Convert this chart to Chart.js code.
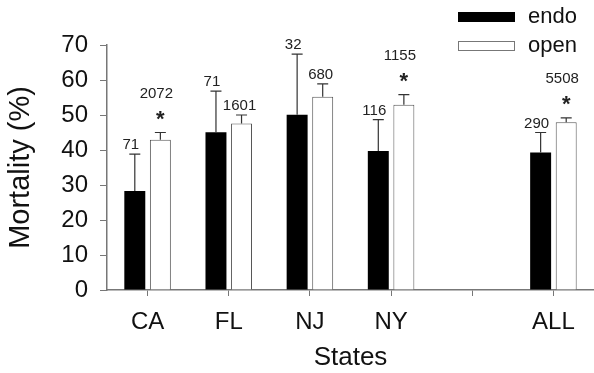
<!DOCTYPE html>
<html>
<head>
<meta charset="utf-8">
<script src="https://cdn.jsdelivr.net/npm/chart.js@4"></script>
<style>
  html, body { margin: 0; padding: 0; background: #fff; }
  #wrap { width: 594px; height: 373px; }
</style>
</head>
<body>
<div id="wrap"><canvas id="chartContainer"></canvas></div>
<script>
const states = ['CA', 'FL', 'NJ', 'NY', '', 'ALL'];
const endoValues = [28.3, 45.1, 50.1, 39.7, null, 39.3];
const endoErrors = [10.5, 11.7, 17.3, 9.0, null, 5.7];
const openValues = [42.9, 47.6, 55.2, 52.9, null, 47.9];
const openErrors = [2.1, 2.4, 3.7, 2.9, null, 1.3];
const endoCounts = ['71', '71', '32', '116', '', '290'];
const openCounts = ['2072', '1601', '680', '1155', '', '5508'];
const openStars = [true, false, false, true, false, true];
const yTicks = [0, 10, 20, 30, 40, 50, 60, 70];

const FONT = 'Liberation Sans, Arial, sans-serif';

// error bars (upward only) and n / * labels
const extrasPlugin = {
    id: 'extras',
    afterDatasetsDraw(chart) {
        const ctx = chart.ctx;
        const y = chart.scales.y;
        const errs = [endoErrors, openErrors];
        ctx.save();
        chart.data.datasets.forEach((ds, di) => {
            const meta = chart.getDatasetMeta(di);
            meta.data.forEach((bar, i) => {
                const v = ds.data[i];
                if (v === null) return;
                const top = y.getPixelForValue(v + errs[di][i]);
                ctx.strokeStyle = '#333';
                ctx.lineWidth = 1.2;
                ctx.beginPath();
                ctx.moveTo(bar.x, bar.y);
                ctx.lineTo(bar.x, top);
                ctx.moveTo(bar.x - 5.5, top);
                ctx.lineTo(bar.x + 5.5, top);
                ctx.stroke();

                ctx.fillStyle = '#222';
                ctx.textAlign = 'center';
                ctx.textBaseline = 'alphabetic';
                if (di === 0) {
                    ctx.font = '15px ' + FONT;
                    ctx.fillText(endoCounts[i], bar.x - 4, top - 5);
                } else if (openStars[i]) {
                    ctx.font = 'bold 22px ' + FONT;
                    ctx.fillText('*', bar.x, top - 7);
                    ctx.font = '15px ' + FONT;
                    ctx.fillText(openCounts[i], bar.x - 4, top - 35);
                } else {
                    ctx.font = '15px ' + FONT;
                    ctx.fillText(openCounts[i], bar.x - 2, top - 5);
                }
            });
        });

        // legend
        const items = [
            { label: 'endo', fill: '#000', stroke: '#000', y: 17 },
            { label: 'open', fill: '#fff', stroke: '#777', y: 46 }
        ];
        items.forEach(it => {
            ctx.fillStyle = it.fill;
            ctx.strokeStyle = it.stroke;
            ctx.lineWidth = 1;
            ctx.fillRect(458, it.y - 5, 57, 10);
            ctx.strokeRect(458.5, it.y - 4.5, 56, 9);
            ctx.fillStyle = '#111';
            ctx.font = '22px ' + FONT;
            ctx.textAlign = 'left';
            ctx.textBaseline = 'middle';
            ctx.fillText(it.label, 528, it.y);
        });
        ctx.restore();
    }
};

function displayChart() {
    const chartContainer = document.getElementById('chartContainer');
    new Chart(chartContainer, {
        type: 'bar',
        data: {
            labels: states,
            datasets: [{
                label: 'endo',
                data: endoValues,
                backgroundColor: '#000',
                borderColor: '#000',
                borderWidth: 0,
                categoryPercentage: 0.63,
                barPercentage: 0.82
            }, {
                label: 'open',
                data: openValues,
                backgroundColor: '#fff',
                borderColor: '#555',
                borderWidth: 1,
                categoryPercentage: 0.63,
                barPercentage: 0.82
            }]
        },
        options: {
            responsive: false,
            animation: false,
            layout: { padding: { top: 45, right: 0, left: 0, bottom: 0 } },
            plugins: {
                legend: { display: false },
                tooltip: { enabled: false }
            },
            scales: {
                x: {
                    offset: true,
                    grid: { display: true, drawOnChartArea: false, offset: false, tickLength: 6, color: '#777' },
                    border: { color: '#777', width: 1.5 },
                    ticks: { color: '#111', font: { family: FONT, size: 24 }, padding: 12, maxRotation: 0, autoSkip: false },
                    title: { display: true, text: 'States', color: '#111', font: { family: FONT, size: 26 }, padding: { top: 6, bottom: 0 } },
                    afterFit(scale) { scale.height = 83; }
                },
                y: {
                    min: 0,
                    max: 70,
                    afterBuildTicks(scale) { scale.ticks = yTicks.map(v => ({ value: v })); },
                    grid: { display: true, drawOnChartArea: false, tickLength: 7, color: '#777' },
                    border: { color: '#777', width: 1.5 },
                    ticks: { color: '#111', font: { family: FONT, size: 24 }, padding: 12 },
                    title: { display: true, text: 'Mortality (%)', color: '#111', font: { family: FONT, size: 29 }, padding: 4 },
                    afterFit(scale) { scale.width = 107; }
                }
            }
        },
        plugins: [extrasPlugin]
    });
}

window.onload = function() {
    const c = document.getElementById('chartContainer');
    c.width = 594;
    c.height = 373;
    displayChart();
};
</script>
</body>
</html>
